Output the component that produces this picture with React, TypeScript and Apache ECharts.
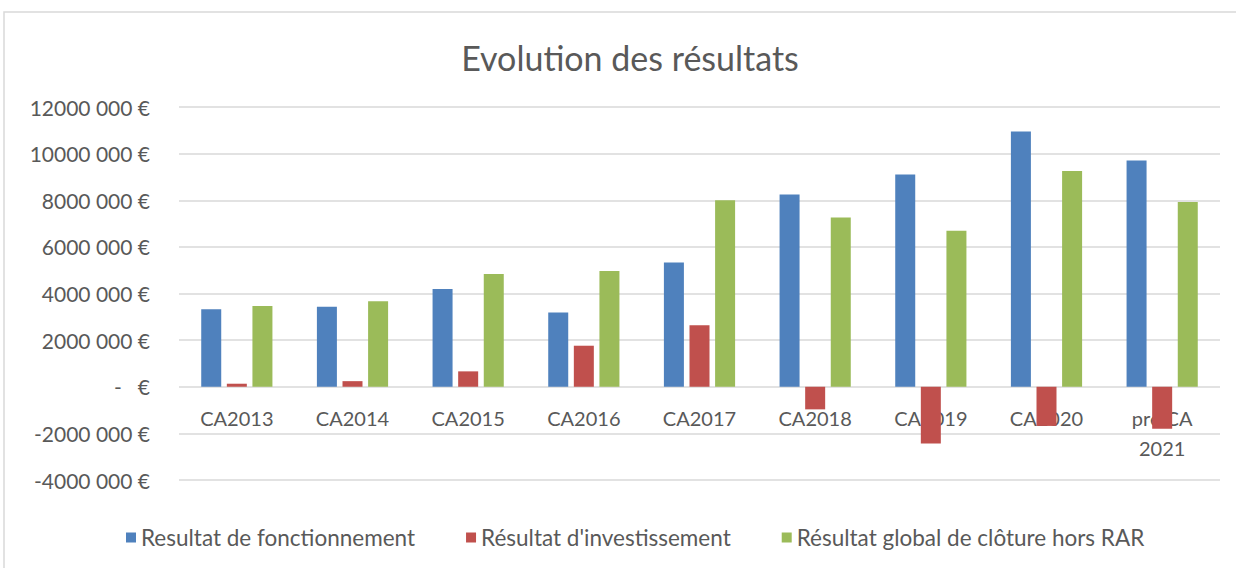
import React, { useEffect, useRef } from "react";
import * as echarts from "echarts";

const categories = ["CA2013", "CA2014", "CA2015", "CA2016", "CA2017", "CA2018", "CA2019", "CA2020", "pré CA\n2021"];
const fonctionnement = [3320000, 3430000, 4190000, 3190000, 5330000, 8250000, 9100000, 10950000, 9700000];
const investissement = [130000, 240000, 660000, 1760000, 2640000, -970000, -2430000, -1680000, -1800000];
const globalCloture = [3460000, 3670000, 4840000, 4960000, 8000000, 7260000, 6690000, 9260000, 7920000];
const seriesNames = ["Resultat de fonctionnement", "Résultat d'investissement", "Résultat global de clôture hors RAR"];
const colors = ["#4F81BD", "#C0504D", "#9BBB59"];
const titleText = "Evolution des résultats";

const FONT = "Lato, 'Open Sans', sans-serif";
const TEXT = "#595959";

const Y_MIN = -4000000;
const Y_MAX = 12000000;
const GRID_TOP = 107;
const GRID_BOTTOM = 88;
const HEIGHT = 568;

function fmt(v: number): string {
  if (v === 0) return "-\u00a0\u00a0\u00a0€";
  return `${v / 1000} 000 €`;
}

export default function App() {
  const ref = useRef<HTMLDivElement>(null);
  useEffect(() => {
    if (!ref.current) return;
    const chart = echarts.init(ref.current, null, { renderer: "svg" });
    const plotH = HEIGHT - GRID_TOP - GRID_BOTTOM;
    const zeroOffset = -(plotH * (0 - Y_MIN)) / (Y_MAX - Y_MIN);
    const mk = (name: string, data: number[], color: string) => ({
      name,
      type: "bar",
      data,
      barWidth: 20,
      barGap: "28%",
      itemStyle: { color },
    });
    chart.setOption({
      animation: false,
      backgroundColor: "#ffffff",
      textStyle: { fontFamily: FONT },
      graphic: [
        {
          type: "rect",
          shape: { x: 4, y: 12, width: 1300, height: 700 },
          style: { fill: "none", stroke: "#d9d9d9", lineWidth: 1.5 },
          silent: true,
          z: -1,
        },
        {
          type: "text",
          x: 630,
          y: 57,
          style: {
            text: titleText,
            fill: TEXT,
            font: `34px ${FONT}`,
            textAlign: "center",
            textVerticalAlign: "middle",
          },
        },
      ],
      legend: {
        data: seriesNames,
        left: 121,
        top: 521,
        itemWidth: 10,
        itemHeight: 10,
        itemGap: 51,
        icon: "rect",
        textStyle: { color: TEXT, fontSize: 22.5, fontFamily: FONT },
      },
      grid: { left: 179, right: 16, top: GRID_TOP, bottom: GRID_BOTTOM, containLabel: false },
      xAxis: {
        type: "category",
        data: categories,
        offset: zeroOffset,
        axisLine: { show: false, onZero: false },
        axisTick: { show: false },
        axisLabel: {
          color: TEXT,
          fontSize: 20,
          fontFamily: FONT,
          margin: 16,
          lineHeight: 30,
          interval: 0,
        },
      },
      yAxis: {
        type: "value",
        min: Y_MIN,
        max: Y_MAX,
        interval: 2000000,
        axisLine: { show: false },
        axisTick: { show: false },
        splitLine: { lineStyle: { color: "#d9d9d9", width: 1.5 } },
        axisLabel: {
          color: TEXT,
          fontSize: 21,
          fontFamily: FONT,
          margin: 29,
          formatter: fmt,
        },
      },
      series: [
        mk(seriesNames[0], fonctionnement, colors[0]),
        mk(seriesNames[1], investissement, colors[1]),
        mk(seriesNames[2], globalCloture, colors[2]),
      ],
    });
    return () => chart.dispose();
  }, []);
  return (
    <div
      ref={ref}
      style={{ position: "fixed", left: 0, top: 0, width: 1236, height: 568, background: "#fff" }}
    />
  );
}
